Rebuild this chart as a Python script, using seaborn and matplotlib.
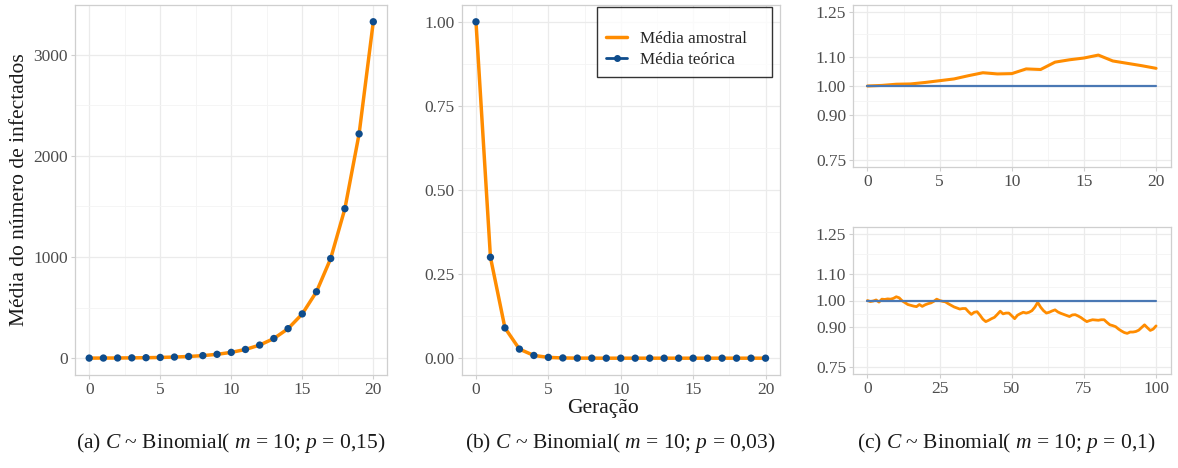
import numpy as np
import pandas as pd
import matplotlib
matplotlib.use("Agg")
import matplotlib.pyplot as plt
import seaborn as sns
from matplotlib.lines import Line2D
from matplotlib.ticker import FixedLocator

# dados
geracao_20 = list(range(21))
geracao_100 = list(range(101))

teorica_a = [1, 1.5, 2.25, 3.38, 5.06, 7.59, 11.39, 17.09, 25.63, 38.44, 57.67,
             86.5, 129.7, 194.6, 291.9, 437.9, 656.8, 985.3, 1477.9, 2216.8, 3325.3]
amostral_a = [1, 1.5, 2.25, 3.38, 5.06, 7.59, 11.39, 17.09, 25.63, 38.44, 57.67,
              86.5, 129.7, 194.6, 291.9, 437.9, 656.8, 985.3, 1477.9, 2216.8, 3325.3]

teorica_b = [1.0, 0.3, 0.09, 0.027, 0.0081, 0.0024, 0.0007, 0.0002, 0.0001, 0.0, 0.0,
             0.0, 0.0, 0.0, 0.0, 0.0, 0.0, 0.0, 0.0, 0.0, 0.0]
amostral_b = [1.0, 0.3, 0.09, 0.027, 0.0081, 0.0024, 0.0007, 0.0002, 0.0001, 0.0, 0.0,
              0.0, 0.0, 0.0, 0.0, 0.0, 0.0, 0.0, 0.0, 0.0, 0.0]

teorica_c20 = [1.0] * 21
amostral_c20 = [1.000, 1.002, 1.006, 1.007, 1.012, 1.018, 1.024, 1.035, 1.045, 1.041, 1.042,
                1.058, 1.056, 1.081, 1.089, 1.095, 1.105, 1.085, 1.077, 1.069, 1.060]

teorica_c100 = [1.0] * 101
amostral_c100 = [1.000, 0.996, 0.998, 1.002, 0.994, 1.005, 1.004, 1.006, 1.005, 1.008,
                 1.014, 1.010, 0.999, 0.992, 0.985, 0.982, 0.979, 0.977, 0.985, 0.978,
                 0.984, 0.988, 0.991, 0.997, 1.005, 1.000, 0.997, 0.995, 0.988, 0.982,
                 0.976, 0.972, 0.968, 0.970, 0.970, 0.958, 0.948, 0.956, 0.958, 0.945,
                 0.930, 0.921, 0.926, 0.932, 0.937, 0.948, 0.960, 0.950, 0.953, 0.953,
                 0.943, 0.932, 0.945, 0.951, 0.956, 0.953, 0.956, 0.962, 0.975, 0.993,
                 0.975, 0.962, 0.953, 0.956, 0.961, 0.965, 0.957, 0.952, 0.948, 0.944,
                 0.940, 0.946, 0.947, 0.942, 0.936, 0.928, 0.921, 0.925, 0.928, 0.927,
                 0.926, 0.928, 0.928, 0.918, 0.909, 0.906, 0.902, 0.893, 0.886, 0.880,
                 0.877, 0.882, 0.882, 0.884, 0.889, 0.899, 0.909, 0.898, 0.888, 0.893,
                 0.905]

legenda = ["Média amostral", "Média teórica"]
legendas_c = [r"(a) $C$ ~ Binomial( $m$ = 10; $p$ = 0,15)",
              r"(b) $C$ ~ Binomial( $m$ = 10; $p$ = 0,03)",
              r"(c) $C$ ~ Binomial( $m$ = 10; $p$ = 0,1)"]

laranja = "#FF8C00"
azul_ponto = "#0E4C8C"
azul_linha = "#4A78B4"
cinza_borda = "#CFCFCF"

sns.set_theme(style="white")
plt.rcParams["font.family"] = ["Liberation Serif", "DejaVu Serif"]
plt.rcParams["mathtext.fontset"] = "custom"
plt.rcParams["mathtext.rm"] = "Liberation Serif"
plt.rcParams["mathtext.it"] = "Liberation Serif:italic"

fig = plt.figure(figsize=(11.78, 4.68), dpi=100)
W, H = 1178, 468


def eixo(l, t, r, b):
    return fig.add_axes([l / W, 1 - b / H, (r - l) / W, (b - t) / H])


def estilo(ax, xmaj, xmin, ymaj, ymin, ylabs=None):
    ax.xaxis.set_major_locator(FixedLocator(xmaj))
    ax.xaxis.set_minor_locator(FixedLocator(xmin))
    ax.yaxis.set_major_locator(FixedLocator(ymaj))
    ax.yaxis.set_minor_locator(FixedLocator(ymin))
    if ylabs is not None:
        ax.set_yticklabels(ylabs)
    ax.grid(which="major", color="#EBEBEB", lw=0.9)
    ax.grid(which="minor", color="#F4F4F4", lw=0.6)
    ax.set_axisbelow(True)
    ax.tick_params(which="major", length=3, width=0.8, color=cinza_borda, pad=2,
                   labelsize=12.5, labelcolor="#4D4D4D", bottom=True, left=True)
    ax.tick_params(which="minor", length=0)
    for s in ax.spines.values():
        s.set_color(cinza_borda)
        s.set_linewidth(0.9)
    ax.set_xlabel("")
    ax.set_ylabel("")


# (a)
df_a = pd.DataFrame({"g": geracao_20, "amostral": amostral_a, "teorica": teorica_a})
ax_a = eixo(75, 5, 387.5, 375)
sns.lineplot(data=df_a, x="g", y="amostral", color=laranja, lw=2.5, ax=ax_a)
sns.scatterplot(data=df_a, x="g", y="teorica", color=azul_ponto, s=28, edgecolor="none", zorder=3, ax=ax_a)
ax_a.set_xlim(-1, 21)
ax_a.set_ylim(-166, 3491)
estilo(ax_a, [0, 5, 10, 15, 20], [2.5, 7.5, 12.5, 17.5], [0, 1000, 2000, 3000], [500, 1500, 2500])
fig.text(20 / W, 1 - 190 / H, "Média do número de infectados", rotation=90, ha="center", va="center",
         fontsize=15.5, color="#1A1A1A")

# (b)
df_b = pd.DataFrame({"g": geracao_20, "amostral": amostral_b, "teorica": teorica_b})
ax_b = eixo(461.5, 5, 780, 375)
sns.lineplot(data=df_b, x="g", y="amostral", color=laranja, lw=2.5, ax=ax_b)
sns.scatterplot(data=df_b, x="g", y="teorica", color=azul_ponto, s=28, edgecolor="none", zorder=3, ax=ax_b)
ax_b.set_xlim(-1, 21)
ax_b.set_ylim(-0.05, 1.05)
estilo(ax_b, [0, 5, 10, 15, 20], [2.5, 7.5, 12.5, 17.5], [0, 0.25, 0.5, 0.75, 1.0],
       [0.125, 0.375, 0.625, 0.875], ["0.00", "0.25", "0.50", "0.75", "1.00"])

handles = [Line2D([], [], color=laranja, lw=2.5),
           Line2D([], [], color=azul_ponto, lw=2, marker="o", markersize=4)]
leg = ax_b.legend(handles, legenda, loc="upper left",
                  bbox_to_anchor=(597 / W, 1 - 78 / H, 175 / W, 71 / H), mode="expand",
                  bbox_transform=fig.transFigure, frameon=True, fancybox=False, fontsize=12.3,
                  title=" ", title_fontsize=7, handlelength=1.2, handletextpad=0.75,
                  borderpad=0.55, labelspacing=0.3, borderaxespad=0)
leg.get_frame().set_edgecolor("black")
leg.get_frame().set_linewidth(1.0)
fig.text(603 / W, 1 - 408 / H, "Geração", ha="center", va="center", fontsize=15.5, color="#1A1A1A")

# (c) topo
df_c20 = pd.DataFrame({"g": geracao_20, "amostral": amostral_c20, "teorica": teorica_c20})
ax_c1 = eixo(853, 5, 1170.5, 167)
sns.lineplot(data=df_c20, x="g", y="amostral", color=laranja, lw=2.2, ax=ax_c1)
sns.lineplot(data=df_c20, x="g", y="teorica", color=azul_linha, lw=1.6, ax=ax_c1)
ax_c1.set_xlim(-1, 21)
ax_c1.set_ylim(0.725, 1.275)
estilo(ax_c1, [0, 5, 10, 15, 20], [2.5, 7.5, 12.5, 17.5], [0.75, 0.9, 1.0, 1.1, 1.25],
       [0.825, 0.95, 1.05, 1.175], ["0.75", "0.90", "1.00", "1.10", "1.25"])

# (c) base
df_c100 = pd.DataFrame({"g": geracao_100, "amostral": amostral_c100, "teorica": teorica_c100})
ax_c2 = eixo(853, 227, 1170.5, 374)
sns.lineplot(data=df_c100, x="g", y="amostral", color=laranja, lw=2.0, ax=ax_c2)
sns.lineplot(data=df_c100, x="g", y="teorica", color=azul_linha, lw=1.6, ax=ax_c2)
ax_c2.set_xlim(-5, 105)
ax_c2.set_ylim(0.725, 1.275)
estilo(ax_c2, [0, 25, 50, 75, 100], [12.5, 37.5, 62.5, 87.5], [0.75, 0.9, 1.0, 1.1, 1.25],
       [0.825, 0.95, 1.05, 1.175], ["0.75", "0.90", "1.00", "1.10", "1.25"])

for cx, txt in zip([231, 620, 1006], legendas_c):
    fig.text(cx / W, 1 - 443 / H, txt, ha="center", va="center", fontsize=15.5, color="#1A1A1A")

fig.savefig("out.png", dpi=100, facecolor="white")
